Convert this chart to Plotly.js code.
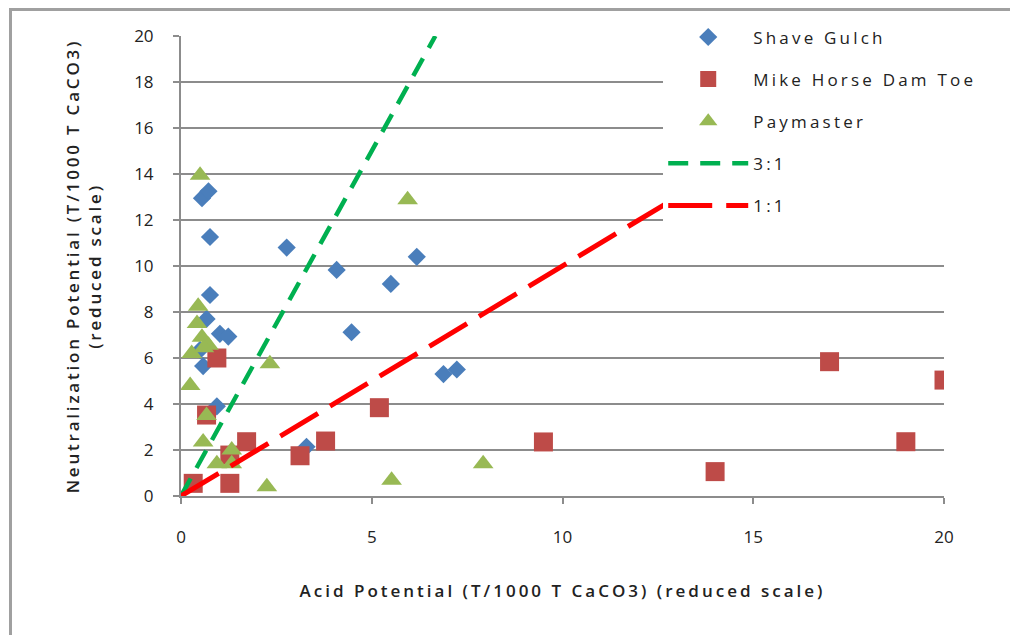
<!DOCTYPE html>
<html>
<head>
<meta charset="utf-8">
<script src="https://cdn.plot.ly/plotly-3.0.1.min.js"></script>
<style>
  html, body { margin: 0; padding: 0; overflow: hidden; background: #fff; }
  #chart { width: 1010px; height: 635px; }
  #frame { position: absolute; left: 9px; top: 8px; width: 1100px; height: 700px;
           border-left: 3px solid #a0a0a0; border-top: 3px solid #a0a0a0; pointer-events: none; }
  .xtitle { letter-spacing: 3px; }
  .ytitle { letter-spacing: 2.8px; }
  .legendtext { letter-spacing: 3.2px; }
</style>
</head>
<body>
<div id="chart"></div>
<div id="frame"></div>
<script>
// Shave Gulch
const shaveX = [0.55, 0.72, 0.76, 2.77, 4.08, 6.18, 5.50, 4.47, 0.76, 0.67, 1.02, 1.24, 0.50, 0.58, 0.94, 3.29, 6.88, 7.23];
const shaveY = [12.95, 13.25, 11.26, 10.80, 9.83, 10.40, 9.22, 7.12, 8.74, 7.70, 7.05, 6.93, 6.35, 5.65, 3.90, 2.14, 5.30, 5.50];
// Mike Horse Dam Toe
const mikeX = [0.32, 1.28, 0.67, 0.94, 1.72, 1.28, 3.12, 3.79, 5.20, 9.50, 14.0, 17.0, 19.0, 20.0];
const mikeY = [0.55, 0.55, 3.52, 6.00, 2.36, 1.78, 1.75, 2.39, 3.84, 2.35, 1.06, 5.84, 2.36, 5.04];
// Paymaster
const payX = [0.50, 0.45, 0.42, 0.55, 0.72, 0.28, 0.60, 2.33, 0.24, 0.67, 0.58, 1.33, 0.94, 1.33, 2.25, 5.52, 5.94, 7.92];
const payY = [13.95, 8.25, 7.50, 6.90, 6.55, 6.20, 6.45, 5.75, 4.80, 3.50, 2.35, 2.00, 1.40, 1.40, 0.40, 0.68, 12.88, 1.40];
// Reference lines
const line31X = [0, 6.667];
const line31Y = [0, 20];
const line11X = [0, 20];
const line11Y = [0, 20];
const xTicks = [0, 5, 10, 15, 20];
const yTicks = [0, 2, 4, 6, 8, 10, 12, 14, 16, 18, 20];

const FONT = '"Open Sans", "Liberation Sans", sans-serif';

const traces = [
  { x: shaveX, y: shaveY, name: 'Shave Gulch', type: 'scatter', mode: 'markers', legendgroup: 'a',
    marker: { symbol: 'diamond', size: 14, color: '#4a7ebb' } },
  { x: mikeX, y: mikeY, name: 'Mike Horse Dam Toe', type: 'scatter', mode: 'markers', legendgroup: 'b',
    marker: { symbol: 'square', size: 19, color: '#be4b48' } },
  { x: payX, y: payY, name: 'Paymaster', type: 'scatter', mode: 'markers', legendgroup: 'c',
    marker: { symbol: 'triangle-up', size: 18, color: '#98b954' } },
  { x: line31X, y: line31Y, name: '3:1', type: 'scatter', mode: 'lines', legendgroup: 'd',
    line: { color: '#00b050', width: 4.5, dash: '20px,12px' } },
  { x: line11X, y: line11Y, name: '1:1', type: 'scatter', mode: 'lines', legendgroup: 'e',
    line: { color: '#ff0000', width: 5, dash: '44px,14px' } }
];

const layout = {
  width: 1010, height: 635,
  margin: { l: 181, r: 66, t: 36, b: 139 },
  paper_bgcolor: '#ffffff', plot_bgcolor: '#ffffff',
  font: { family: FONT, size: 16, color: '#222222' },
  showlegend: true,
  legend: {
    x: 0.632, xanchor: 'left', y: 1.036, yanchor: 'top',
    bgcolor: '#ffffff', borderwidth: 0,
    font: { family: FONT, size: 17, color: '#222222' },
    tracegroupgap: 17, itemwidth: 80, traceorder: 'grouped'
  },
  xaxis: {
    range: [0, 20], tickvals: xTicks, ticktext: xTicks.map(String),
    showgrid: false, zeroline: false,
    showline: true, linecolor: '#8c8c8c', linewidth: 2,
    ticks: 'outside', ticklen: 6, tickwidth: 2, tickcolor: '#8c8c8c',
    ticklabelstandoff: 19,
    tickfont: { family: FONT, size: 17, color: '#222222' },
    title: { text: 'Acid Potential (T/1000 T CaCO3) (reduced scale)', standoff: 38,
             font: { family: FONT, size: 17, color: '#222222', weight: 600 } }
  },
  yaxis: {
    range: [0, 20], tickvals: yTicks, ticktext: yTicks.map(String),
    showgrid: true, gridcolor: '#8c8c8c', gridwidth: 1.5, zeroline: false,
    showline: true, linecolor: '#8c8c8c', linewidth: 2,
    ticks: 'outside', ticklen: 6, tickwidth: 2, tickcolor: '#8c8c8c',
    ticklabelstandoff: 16,
    tickfont: { family: FONT, size: 17, color: '#222222' },
    title: { text: 'Neutralization Potential (T/1000 T CaCO3)<br>(reduced scale)', standoff: 28,
             font: { family: FONT, size: 17, color: '#222222', weight: 600 } }
  }
};

Plotly.newPlot('chart', traces, layout, { displayModeBar: false, staticPlot: true });
</script>
</body>
</html>
